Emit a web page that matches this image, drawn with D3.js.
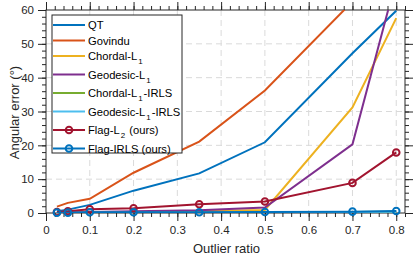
<!DOCTYPE html>
<html>
<head>
<meta charset="utf-8">
<script src="https://cdnjs.cloudflare.com/ajax/libs/d3/7.8.5/d3.min.js"></script>
<style>
  body { margin: 0; background: #fff; }
  svg { display: block; font-family: "Liberation Sans", Arial, sans-serif; }
  .tick text { fill: #262626; }
</style>
</head>
<body>
<div class="chart"></div>
<script>
'use strict';

// Outlier ratios (x values) shared by every method
const ratios = [0.025, 0.05, 0.1, 0.2, 0.35, 0.5, 0.7, 0.8];

// Angular error (degrees)
const qt           = [0.5, 1.0, 2.4, 6.6, 11.7, 20.9, 47.2, 59.8];
const govindu      = [1.9, 3.0, 4.2, 11.9, 21.1, 36.2, 62.5, 80.0];
const chordalL1    = [0.1, 0.1, 0.2, 0.3, 0.5, 0.9, 31.2, 57.6];
const geodesicL1   = [0.2, 0.2, 0.3, 0.5, 0.8, 1.6, 20.3, 69.0];
const chordalIRLS  = [0.05, 0.05, 0.1, 0.1, 0.1, 0.2, 0.3, 0.4];
const geodesicIRLS = [0.05, 0.05, 0.1, 0.1, 0.1, 0.2, 0.3, 0.4];
const flagL2       = [0.3, 0.5, 1.1, 1.4, 2.6, 3.4, 8.9, 17.9];
const flagIRLS     = [0.1, 0.1, 0.2, 0.2, 0.2, 0.3, 0.4, 0.6];

// Legend labels ("_1" becomes a subscript)
const labels = ["QT", "Govindu", "Chordal-L_1", "Geodesic-L_1", "Chordal-L_1-IRLS",
  "Geodesic-L_1-IRLS", "Flag-L_2 (ours)", "Flag-IRLS (ours)"];
const colors = ["#0072BD", "#D95319", "#EDB120", "#7E2F8E", "#77AC30", "#4DBEEE", "#A2142F", "#0072BD"];
const seriesValues = [qt, govindu, chordalL1, geodesicL1, chordalIRLS, geodesicIRLS, flagL2, flagIRLS];
const hasMarkers = [false, false, false, false, false, false, true, true];

// Axis ticks
const xTicks = [0, 0.1, 0.2, 0.3, 0.4, 0.5, 0.6, 0.7, 0.8];
const yTicks = [0, 10, 20, 30, 40, 50, 60];

const W = 415, H = 257;
const margin = {top: 10, left: 46, right: 10, bottom: 44};
const w = W - margin.left - margin.right;
const h = H - margin.top - margin.bottom;

const svg = d3.select(".chart").append("svg")
  .attr("width", W).attr("height", H);

const x = d3.scaleLinear().domain([0, 0.82]).range([0, w]);
const y = d3.scaleLinear().domain([0, 60]).range([h, 0]);

const g = svg.append("g")
  .attr("transform", `translate(${margin.left},${margin.top})`);

// grid
g.append("g").selectAll("line")
  .data(xTicks.slice(1))
  .join("line")
  .attr("x1", d => x(d)).attr("x2", d => x(d))
  .attr("y1", 0).attr("y2", h)
  .attr("stroke", "#dadada").attr("stroke-dasharray", "6,4");
g.append("g").selectAll("line")
  .data(yTicks.slice(1, -1))
  .join("line")
  .attr("x1", 0).attr("x2", w)
  .attr("y1", d => y(d)).attr("y2", d => y(d))
  .attr("stroke", "#dadada").attr("stroke-dasharray", "6,4");

// minor ticks
const xMinor = d3.range(0, 0.8201, 0.02);
const yMinor = d3.range(0, 60.01, 2);

function styleAxis(sel) {
  sel.select(".domain").remove();
  sel.selectAll(".tick line").attr("stroke", "#262626");
  sel.selectAll("text").attr("font-size", 11.5);
}

g.append("g").attr("transform", `translate(0,${h})`)
  .call(d3.axisBottom(x).tickValues(xMinor).tickSize(4).tickFormat(""))
  .call(styleAxis);
g.append("g")
  .call(d3.axisTop(x).tickValues(xMinor).tickSize(4).tickFormat(""))
  .call(styleAxis);
g.append("g")
  .call(d3.axisLeft(y).tickValues(yMinor).tickSize(4).tickFormat(""))
  .call(styleAxis);
g.append("g").attr("transform", `translate(${w},0)`)
  .call(d3.axisRight(y).tickValues(yMinor).tickSize(4).tickFormat(""))
  .call(styleAxis);

// major ticks
g.append("g").attr("transform", `translate(0,${h})`)
  .call(d3.axisBottom(x).tickValues(xTicks).tickSize(8).tickPadding(5)
    .tickFormat(d => d === 0 ? "0" : d3.format(".1f")(d)))
  .call(styleAxis);
g.append("g")
  .call(d3.axisTop(x).tickValues(xTicks).tickSize(8).tickFormat(""))
  .call(styleAxis);
g.append("g")
  .call(d3.axisLeft(y).tickValues(yTicks).tickSize(8).tickPadding(4))
  .call(styleAxis);
g.append("g").attr("transform", `translate(${w},0)`)
  .call(d3.axisRight(y).tickValues(yTicks).tickSize(8).tickFormat(""))
  .call(styleAxis);

// box
g.append("rect")
  .attr("width", w).attr("height", h)
  .attr("fill", "none").attr("stroke", "#262626").attr("stroke-width", 1);

// lines
svg.append("clipPath").attr("id", "clip")
  .append("rect").attr("width", w).attr("height", h);

const plot = g.append("g").attr("clip-path", "url(#clip)");
const line = d3.line().x(d => x(d[0])).y(d => y(d[1]));

seriesValues.forEach((vals, i) => {
  const pts = ratios.map((r, j) => [r, vals[j]]);
  plot.append("path")
    .datum(pts)
    .attr("d", line)
    .attr("fill", "none")
    .attr("stroke", colors[i])
    .attr("stroke-width", 2);
  if (hasMarkers[i]) {
    g.append("g").selectAll("circle")
      .data(pts)
      .join("circle")
      .attr("cx", d => x(d[0])).attr("cy", d => y(d[1]))
      .attr("r", 3.3)
      .attr("fill", "none")
      .attr("stroke", colors[i])
      .attr("stroke-width", 2);
  }
});

// legend
const legend = svg.append("g");
const lx = 52, ly = 15;
let rowTop = ly + 2.5;
const rows = labels.map(l => {
  const r = rowTop;
  rowTop += l.includes("_") ? 18.5 : 15.5;
  return r;
});
legend.append("rect")
  .attr("x", lx).attr("y", ly)
  .attr("width", 130).attr("height", 138)
  .attr("fill", "#fff").attr("stroke", "#262626").attr("stroke-width", 1);

labels.forEach((label, i) => {
  const cy = rows[i] + 7.5;
  legend.append("line")
    .attr("x1", lx + 1).attr("x2", lx + 33)
    .attr("y1", cy).attr("y2", cy)
    .attr("stroke", colors[i]).attr("stroke-width", 2);
  if (hasMarkers[i]) {
    legend.append("circle")
      .attr("cx", lx + 17).attr("cy", cy).attr("r", 3.3)
      .attr("fill", "none").attr("stroke", colors[i]).attr("stroke-width", 2);
  }
  const t = legend.append("text")
    .attr("x", lx + 36).attr("y", cy + 4)
    .attr("font-size", 11.2).attr("fill", "#000");
  const parts = label.split(/_(\d)/);
  parts.forEach((p, k) => {
    if (k % 2 === 1) {
      t.append("tspan").attr("font-size", 8).attr("dy", 4).attr("dx", 1).text(p);
    } else if (p) {
      t.append("tspan").attr("dy", k > 0 ? -4 : 0).attr("dx", k > 0 ? 1 : 0).text(p);
    }
  });
});

// axis titles
svg.append("text")
  .attr("x", margin.left + w / 2 + 1).attr("y", 253)
  .attr("text-anchor", "middle").attr("font-size", 13).attr("fill", "#262626")
  .text("Outlier ratio");
svg.append("text")
  .attr("transform", `translate(19,${margin.top + h / 2 + 1}) rotate(-90)`)
  .attr("text-anchor", "middle").attr("font-size", 13).attr("fill", "#262626")
  .text("Angular error (°)");
</script>
</body>
</html>
